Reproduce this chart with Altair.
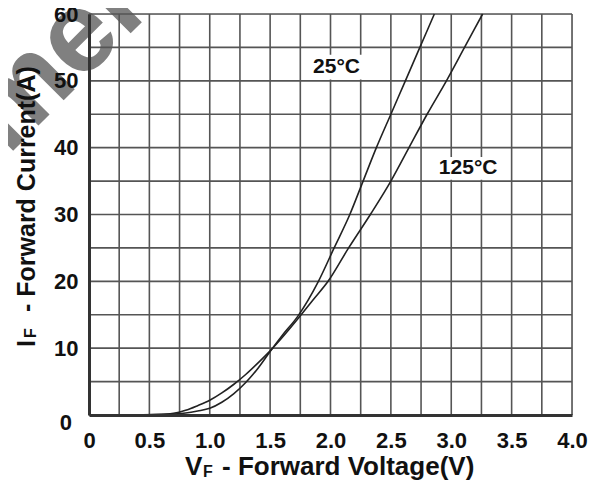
import altair as alt
import pandas as pd

# ---- data ----
v25 = [0.40, 0.55, 0.70, 0.80, 0.90, 1.00, 1.10, 1.20, 1.30, 1.40, 1.50, 1.60, 1.73, 1.90, 2.03, 2.16, 2.27, 2.38, 2.50, 2.62, 2.74, 2.86]
i25 = [0.0, 0.05, 0.15, 0.3, 0.6, 1.0, 1.9, 3.2, 4.9, 7.0, 9.5, 11.9, 14.8, 20, 25, 30, 35, 40, 45, 50, 55, 60]
v125 = [0.40, 0.55, 0.70, 0.80, 0.90, 1.00, 1.10, 1.20, 1.30, 1.40, 1.50, 1.60, 1.73, 1.85, 1.98, 2.15, 2.33, 2.50, 2.65, 2.80, 2.96, 3.11, 3.26]
i125 = [0.0, 0.05, 0.25, 0.7, 1.4, 2.2, 3.3, 4.6, 6.1, 7.8, 9.6, 11.6, 14.4, 17.1, 20, 25, 30, 35, 40, 45, 50, 55, 60]

x_grid = [0, 0.25, 0.5, 0.75, 1.0, 1.25, 1.5, 1.75, 2.0, 2.25, 2.5, 2.75, 3.0, 3.25, 3.5, 3.75, 4.0]
y_grid = [0, 5, 10, 15, 20, 25, 30, 35, 40, 45, 50, 55, 60]
x_ticks = [0, 0.5, 1.0, 1.5, 2.0, 2.5, 3.0, 3.5, 4.0]
y_ticks = [10, 20, 30, 40, 50, 60]

label_text = ["25°C", "125°C"]
label_v = [2.05, 3.14]
label_i = [52.1, 37.0]
box_v1 = [1.80, 2.85]
box_v2 = [2.45, 3.47]
box_i1 = [50.2, 35.2]
box_i2 = [53.9, 38.6]

FONT = "Liberation Sans"
INK = "#111111"
GRID = "#555555"

curves = pd.concat([
    pd.DataFrame({"v": v25, "i": i25, "series": "25°C"}),
    pd.DataFrame({"v": v125, "i": i125, "series": "125°C"}),
])
labels = pd.DataFrame({"t": label_text, "v": label_v, "i": label_i})
boxes = pd.DataFrame({"v1": box_v1, "v2": box_v2, "i1": box_i1, "i2": box_i2})

xscale = alt.Scale(domain=[0, 4], nice=False, zero=False)
yscale = alt.Scale(domain=[0, 60], nice=False)

xaxis = alt.Axis(
    values=x_ticks, grid=False, ticks=False, title=None, zindex=1,
    labelExpr="datum.value == 0 ? '0' : format(datum.value, '.1f')",
    labelFont=FONT, labelFontWeight="bold", labelFontSize=22, labelColor=INK,
    labelPadding=15, labelOverlap=False, labelFlush=False,
    domainColor="#333333", domainWidth=3,
)
yaxis = alt.Axis(
    values=y_ticks, grid=False, ticks=False, title=None, zindex=1,
    labelFont=FONT, labelFontWeight="bold", labelFontSize=22, labelColor=INK,
    labelPadding=11, labelOverlap=False, labelFlush=False,
    domainColor="#333333", domainWidth=3,
)


def txt(s, x, y, size, angle=0, align="left", color=INK, weight="bold"):
    return alt.Chart(pd.DataFrame({"t": [s]})).mark_text(
        font=FONT, fontWeight=weight, fontSize=size, color=color,
        align=align, baseline="alphabetic", angle=angle,
    ).encode(x=alt.value(x), y=alt.value(y), text="t:N")


watermark = txt("Document", -86, 147, 115, angle=315, align="center", color="#808080")

vgrid = alt.Chart(pd.DataFrame({"g": x_grid})).mark_rule(color=GRID, strokeWidth=1.6).encode(
    x=alt.X("g:Q", scale=xscale, axis=xaxis)
)
hgrid = alt.Chart(pd.DataFrame({"g": y_grid})).mark_rule(color=GRID, strokeWidth=1.6).encode(
    y=alt.Y("g:Q", scale=yscale, axis=yaxis)
)

line = alt.Chart(curves).mark_line(color="#222222", strokeWidth=1.6, interpolate="monotone").encode(
    x=alt.X("v:Q", scale=xscale, axis=xaxis),
    y=alt.Y("i:Q", scale=yscale, axis=yaxis),
    detail="series:N",
)

rects = alt.Chart(boxes).mark_rect(color="white").encode(
    x=alt.X("v1:Q", scale=xscale, axis=xaxis), x2="v2",
    y=alt.Y("i1:Q", scale=yscale, axis=yaxis), y2="i2",
)

ltext = alt.Chart(labels).mark_text(font=FONT, fontWeight="bold", fontSize=21, color=INK).encode(
    x=alt.X("v:Q", scale=xscale, axis=xaxis),
    y=alt.Y("i:Q", scale=yscale, axis=yaxis),
    text="t:N",
)

zero = alt.Chart(pd.DataFrame({"t": ["0"]})).mark_text(
    font=FONT, fontWeight="bold", fontSize=22, color=INK, align="right", baseline="middle"
).encode(x=alt.value(-17), y=alt.value(409), text="t:N")

# x title: V_F - Forward Voltage(V)
xt1 = txt("V", 96, 461, 26)
xt2 = txt("F", 114, 463, 16)
xt3 = txt("- Forward Voltage(V)", 133, 461, 26)

# y title: I_F - Forward Current(A)  (rotated)
yt1 = txt("I", -54, 333, 25, angle=270)
yt2 = txt("F", -53, 324, 16, angle=270)
yt3 = txt("- Forward Current(A)", -54, 298, 25, angle=270)

chart = alt.layer(
    watermark, vgrid, hgrid, rects, line, ltext, zero, xt1, xt2, xt3, yt1, yt2, yt3
).properties(
    width=483, height=401,
    padding={"left": 81, "top": 6, "right": 17, "bottom": 65},
    autosize=alt.AutoSizeParams(type="none"),
).configure_view(
    stroke="#444444", strokeWidth=2,
).configure(background="white")

chart.save("out.html", embed_options={"renderer": "svg", "actions": False})
